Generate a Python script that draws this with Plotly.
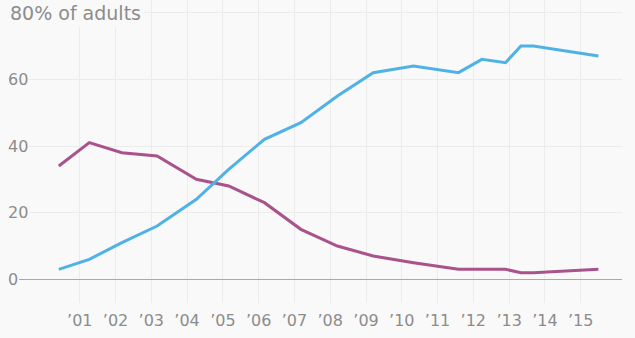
import plotly.graph_objects as go

# Survey dates (approximate field dates)
survey_dates = [
    "2000-06-01", "2001-04-08", "2002-03-07", "2003-03-01", "2004-04-05",
    "2005-03-01", "2006-03-01", "2007-03-08", "2008-03-15", "2009-03-15",
    "2010-05-01", "2011-08-03", "2012-03-28", "2012-11-25", "2013-05-01",
    "2013-09-05", "2015-07-01",
]
# Share of adults with home broadband (%)
broadband = [3, 6, 11, 16, 24, 33, 42, 47, 55, 62, 64, 62, 66, 65, 70, 70, 67]
# Share of adults with home dial-up (%)
dialup = [34, 41, 38, 37, 30, 28, 23, 15, 10, 7, 5, 3, 3, 3, 2, 2, 3]

year_ticks = [f"{y}-01-01" for y in range(2001, 2016)]
year_labels = [f"\u2019{y % 100:02d}" for y in range(2001, 2016)]

y_ticks = [0, 20, 40, 60]
y_title_value = 80
y_title = "80% of adults"

BG = "#f9f9f9"
GRID = "#ececec"
TEXT = "#8c8c8c"
FONT = "DejaVu Sans"

fig = go.Figure()
fig.add_trace(go.Scatter(x=survey_dates, y=dialup, mode="lines",
                         line=dict(color="#a8538b", width=3)))
fig.add_trace(go.Scatter(x=survey_dates, y=broadband, mode="lines",
                         line=dict(color="#4fb2e6", width=3)))

# y labels sit on top of their gridlines with a background box
for v in y_ticks:
    fig.add_annotation(x=0, xref="paper", xanchor="left", y=v, yref="y",
                       yanchor="middle", text=str(v), showarrow=False,
                       font=dict(family=FONT, size=16, color=TEXT),
                       bgcolor=BG, borderpad=1, borderwidth=0)
fig.add_annotation(x=0, xref="paper", xanchor="left", y=y_title_value, yref="y",
                   yanchor="middle", text=y_title, showarrow=False,
                   font=dict(family=FONT, size=19, color=TEXT),
                   bgcolor=BG, borderpad=3, borderwidth=0)

fig.update_layout(
    width=635, height=338,
    margin=dict(l=7, r=13, t=0, b=35),
    paper_bgcolor=BG, plot_bgcolor=BG,
    showlegend=False,
    xaxis=dict(
        type="date",
        range=["1998-12-20", "2016-02-27"],
        tickmode="array", tickvals=year_ticks, ticktext=year_labels,
        showgrid=True, gridcolor=GRID, gridwidth=1,
        showline=False, zeroline=False, ticks="",
        tickfont=dict(family=FONT, size=16, color=TEXT),
        ticklabelstandoff=6,
    ),
    yaxis=dict(
        range=[-7.1, 83.8],
        tickvals=[0, 20, 40, 60, 80], showticklabels=False,
        showgrid=True, gridcolor=GRID, gridwidth=1,
        zeroline=True, zerolinecolor="#a9a9a9", zerolinewidth=1,
        showline=False, ticks="",
    ),
)

fig.write_html("out.html")
